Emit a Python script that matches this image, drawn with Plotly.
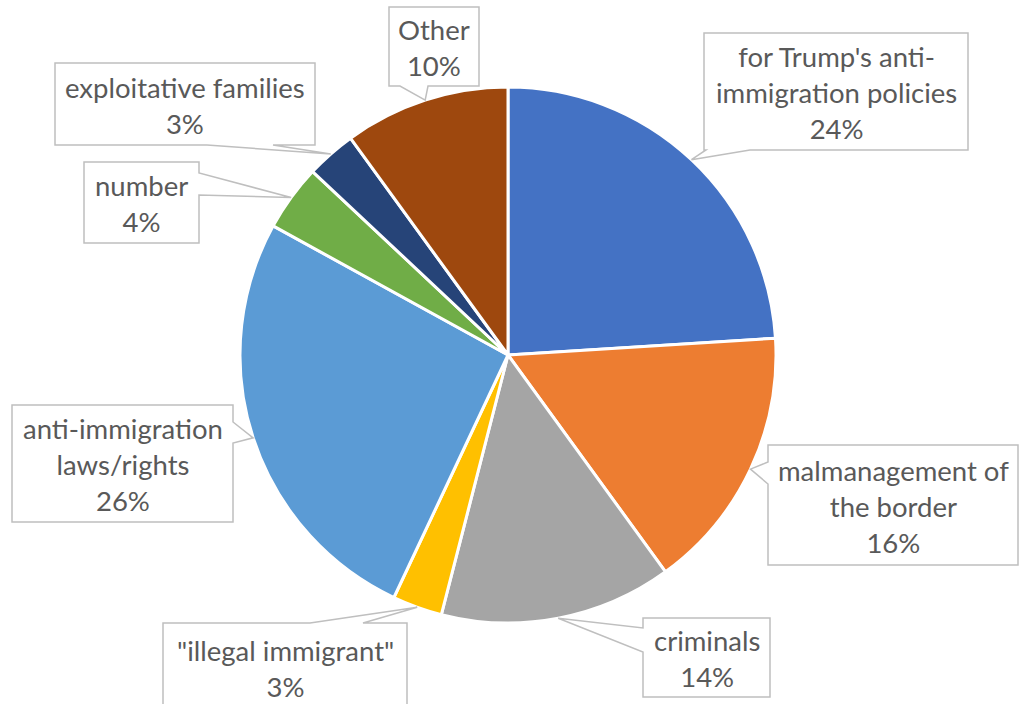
import math
import plotly.graph_objects as go

# Share of responses by category (clockwise from 12 o'clock)
labels = [
    "for Trump's anti-<br>immigration policies",
    "malmanagement of<br>the border",
    "criminals",
    "\"illegal immigrant\"",
    "anti-immigration<br>laws/rights",
    "number",
    "exploitative families",
    "Other",
]
values = [24, 16, 14, 3, 26, 4, 3, 10]
colors = ["#4472C4", "#ED7D31", "#A5A5A5", "#FFC000",
          "#5B9BD5", "#70AD47", "#264478", "#9E480E"]

W, H = 1022, 704
CX, CY, R = 508, 355, 268  # pie centre and radius in pixels

# Callout boxes: (x0, y0, x1, y1), side carrying the pointer, pointer base span
boxes = [
    ((704, 33, 968, 150), "bottom", (706, 750)),
    ((768, 445, 1018, 565), "left", (462, 484)),
    ((643, 618, 770, 697), "left", (628, 652)),
    ((163, 623, 407, 712), "top", (310, 363)),
    ((12, 405, 233, 522), "right", (422, 443)),
    ((84, 162, 199, 243), "right", (173, 195)),
    ((55, 63, 315, 145), "bottom", (207, 273)),
    ((389, 7, 479, 86), "bottom", (400, 428)),
]


def callout_path(box, side, base, tip):
    x0, y0, x1, y1 = box
    b0, b1 = base
    tx, ty = tip
    pts = [(x0, y0)]
    if side == "top":
        pts += [(b0, y0), (tx, ty), (b1, y0)]
    pts.append((x1, y0))
    if side == "right":
        pts += [(x1, b0), (tx, ty), (x1, b1)]
    pts.append((x1, y1))
    if side == "bottom":
        pts += [(b1, y1), (tx, ty), (b0, y1)]
    pts.append((x0, y1))
    if side == "left":
        pts += [(x0, b1), (tx, ty), (x0, b0)]
    return "M " + " L ".join(f"{x},{y}" for x, y in pts) + " Z"


fig = go.Figure()
fig.add_trace(go.Pie(
    labels=labels,
    values=values,
    sort=False,
    direction="clockwise",
    rotation=0,
    marker=dict(colors=colors, line=dict(color="white", width=3)),
    textinfo="none",
    hoverinfo="label+percent",
    showlegend=False,
    domain=dict(x=[(CX - R) / W, (CX + R) / W],
                y=[1 - (CY + R) / H, 1 - (CY - R) / H]),
))

shapes, annotations = [], []
total = sum(values)
cum = 0
for lab, v, (box, side, base) in zip(labels, values, boxes):
    mid = (cum + v / 2) / total * 2 * math.pi
    cum += v
    tip = (CX + R * math.sin(mid), CY - R * math.cos(mid))
    shapes.append(dict(
        type="path", xref="x", yref="y",
        path=callout_path(box, side, base, tip),
        fillcolor="white", line=dict(color="#BFBFBF", width=1.5),
        layer="above",
    ))
    annotations.append(dict(
        xref="x", yref="y",
        x=(box[0] + box[2]) / 2, y=(box[1] + box[3]) / 2 + 1,
        text=f"{lab}<br>{v}%", showarrow=False,
        font=dict(family="Lato", size=27.5, color="#595959"),
        align="center",
    ))

fig.update_layout(
    width=W, height=H,
    margin=dict(l=0, r=0, t=0, b=0),
    paper_bgcolor="white", plot_bgcolor="rgba(0,0,0,0)",
    xaxis=dict(range=[0, W], visible=False, fixedrange=True),
    yaxis=dict(range=[H, 0], visible=False, fixedrange=True),
    shapes=shapes,
    annotations=annotations,
)

fig.write_html("out.html")
